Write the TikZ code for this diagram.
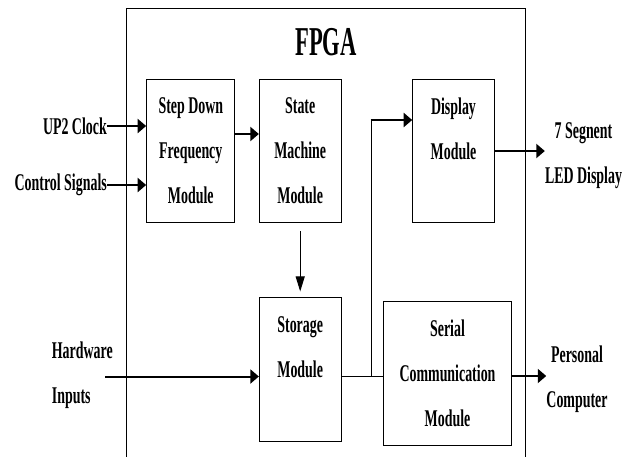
\documentclass[tikz,border=0pt]{standalone}
\usepackage{fontspec}
\setmainfont[FakeStretch=0.58]{Liberation Serif}
\newfontfamily\titlefont[FakeStretch=0.55]{Liberation Serif}
\usetikzlibrary{arrows.meta}
\newcommand{\blockfont}{\bfseries\fontsize{24}{45}\selectfont}

\begin{document}
\begin{tikzpicture}[x = 1pt, y = -1pt,
		module/.style = {draw, line width = 1pt, inner sep = 0pt, align = center, font = \blockfont},
		extlabel/.style = {inner sep = 0pt, align = center, font = \blockfont},
		sigarrow/.style = {line width = 2pt, -{Triangle[length = 8.5pt, width = 14pt]}},
		downarrow/.style = {line width = 1pt, -{Triangle[length = 15pt, width = 9pt]}},
		thinline/.style = {line width = 1pt}]
		\useasboundingbox (0,0) rectangle (634,456);
		\draw[line width = 1pt] (126.7,460) -- (126.7,8) -- (525.7,8) -- (525.7,460);
		\node[inner sep = 0pt, font = \titlefont\bfseries\fontsize{41}{41}\selectfont] (fpga) at (326,41.7) {FPGA};
		\node[module, minimum width = 88.3pt, minimum height = 143pt] (sdf) at (190.8,150.5) {Step Down\\Frequency\\Module};
		\node[module, minimum width = 81.7pt, minimum height = 143pt] (sm) at (300.2,150.5) {State\\Machine\\Module};
		\node[module, minimum width = 81.6pt, minimum height = 143.7pt] (disp) at (453.5,151) {Display\\Module\\~};
		\node[module, minimum width = 81.7pt, minimum height = 144.7pt] (stor) at (300.2,369.6) {Storage\\Module\\~};
		\node[module, minimum width = 128.4pt, minimum height = 143.7pt] (ser) at (447.5,373.2) {Serial\\Communication\\Module};
		\node[extlabel, anchor = east] (clk) at (107,126) {UP2 Clock};
		\node[extlabel, anchor = east] (ctl) at (107,185) {Control Signals};
		\node[extlabel, align = left, anchor = west] (hw) at (51.7,375) {Hardware\\Inputs};
		\node[extlabel] (seg) at (583.5,155.5) {7 Segnent\\LED Display};
		\node[extlabel] (pc) at (577,379.5) {Personal\\Computer};
		\coordinate (hwin) at (105,376.5);
		\coordinate (tap) at (371.7,376);
		\coordinate (bend) at (371.7,120);
		\draw[sigarrow] (clk.east) -- (clk.east -| sdf.west);
		\draw[sigarrow] (ctl.east) -- (ctl.east -| sdf.west);
		\draw[sigarrow] ([yshift = 16.5pt]sdf.east) -- ([yshift = 16.5pt]sm.west);
		\draw[downarrow] ([yshift = -8.5pt]sm.south) -- ([yshift = 5.3pt]stor.north);
		\draw[sigarrow] (hwin) -- (hwin -| stor.west);
		\draw[thinline] ([yshift = -6.4pt]stor.east) -- ([yshift = -6.4pt]stor.east -| ser.west);
		\draw[thinline] (tap) -- (bend);
		\draw[sigarrow] ([xshift = -1pt]bend) -- (bend -| disp.west);
		\draw[sigarrow] (disp.east) -- (disp.east -| seg.west);
		\draw[sigarrow] ([yshift = -2.8pt]ser.east) -- ([yshift = -2.8pt]ser.east -| pc.west);
	\end{tikzpicture}
\end{document}
